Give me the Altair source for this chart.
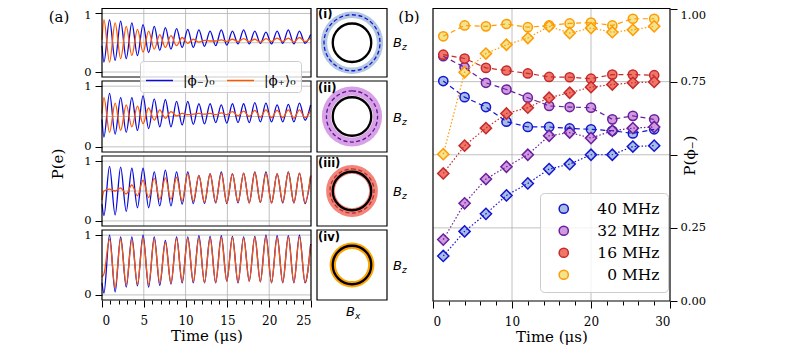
import altair as alt
import pandas as pd

# ---------------- panel (a): time traces (extrema) ----------------
t_a = [0.0, 0.23, 0.9, 1.57, 2.23, 2.9, 3.57, 4.24, 4.91, 5.58, 6.25, 6.91, 7.58, 8.25, 8.92,
       9.59, 10.26, 10.92, 11.59, 12.26, 12.93, 13.6, 14.27, 14.93, 15.6, 16.27, 16.94, 17.61,
       18.28, 18.94, 19.61, 20.28, 20.95, 21.62, 22.29, 22.95, 23.62, 24.29, 24.96]

p1_minus = [0.45, 0.17, 0.89, 0.20, 0.87, 0.23, 0.84, 0.28, 0.81, 0.33, 0.78, 0.37, 0.76, 0.39,
            0.74, 0.42, 0.73, 0.42, 0.72, 0.44, 0.70, 0.45, 0.72, 0.46, 0.70, 0.48, 0.72, 0.48,
            0.70, 0.49, 0.68, 0.48, 0.70, 0.49, 0.72, 0.48, 0.70, 0.49, 0.64]
p1_plus = [0.55, 0.89, 0.17, 0.84, 0.23, 0.78, 0.28, 0.73, 0.34, 0.70, 0.39, 0.64, 0.42, 0.62,
           0.45, 0.59, 0.49, 0.56, 0.51, 0.54, 0.53, 0.53, 0.55, 0.52, 0.56, 0.52, 0.57, 0.52,
           0.56, 0.51, 0.57, 0.52, 0.58, 0.52, 0.58, 0.51, 0.59, 0.52, 0.58]
p2_minus = [0.45, 0.16, 0.88, 0.21, 0.81, 0.24, 0.81, 0.27, 0.84, 0.30, 0.79, 0.33, 0.78, 0.33,
            0.75, 0.36, 0.75, 0.37, 0.71, 0.38, 0.71, 0.40, 0.69, 0.39, 0.71, 0.40, 0.71, 0.40,
            0.73, 0.41, 0.72, 0.41, 0.69, 0.41, 0.70, 0.41, 0.72, 0.44, 0.69]
p2_plus = [0.55, 0.81, 0.24, 0.72, 0.27, 0.69, 0.33, 0.67, 0.38, 0.64, 0.44, 0.61, 0.47, 0.58,
           0.51, 0.55, 0.53, 0.54, 0.55, 0.54, 0.55, 0.53, 0.56, 0.53, 0.58, 0.51, 0.59, 0.50,
           0.60, 0.49, 0.61, 0.48, 0.60, 0.48, 0.61, 0.47, 0.61, 0.48, 0.60]
p3_minus = [0.28, 0.09, 0.91, 0.10, 0.90, 0.16, 0.88, 0.22, 0.88, 0.22, 0.82, 0.25, 0.85, 0.25,
            0.82, 0.28, 0.82, 0.29, 0.76, 0.29, 0.79, 0.30, 0.82, 0.29, 0.79, 0.30, 0.80, 0.30,
            0.82, 0.31, 0.82, 0.30, 0.79, 0.30, 0.82, 0.30, 0.80, 0.29, 0.75]
p3_plus = [0.35, 0.50, 0.53, 0.50, 0.55, 0.45, 0.60, 0.42, 0.68, 0.39, 0.71, 0.36, 0.72, 0.36,
           0.73, 0.33, 0.79, 0.33, 0.76, 0.31, 0.79, 0.31, 0.80, 0.30, 0.79, 0.31, 0.80, 0.30,
           0.81, 0.31, 0.80, 0.30, 0.79, 0.31, 0.81, 0.30, 0.80, 0.30, 0.76]
p4_minus = [0.20, 0.03, 1.00, 0.05, 0.97, 0.13, 0.97, 0.15, 1.00, 0.13, 0.97, 0.16, 0.91, 0.18,
            0.97, 0.20, 0.97, 0.20, 0.99, 0.20, 0.98, 0.20, 0.99, 0.23, 0.98, 0.20, 0.97, 0.23,
            0.98, 0.22, 1.00, 0.20, 0.99, 0.20, 0.99, 0.20, 1.00, 0.20, 0.85]
p4_plus = [0.30, 0.35, 0.93, 0.12, 0.93, 0.17, 0.92, 0.18, 0.95, 0.17, 0.93, 0.20, 0.88, 0.20,
           0.94, 0.22, 0.95, 0.22, 0.95, 0.21, 0.95, 0.21, 0.96, 0.23, 0.96, 0.21, 0.95, 0.23,
           0.96, 0.22, 0.97, 0.21, 0.96, 0.21, 0.97, 0.21, 0.97, 0.21, 0.83]

states = ["|ϕ₋⟩₀", "|ϕ₊⟩₀"]
a_ticks = [0, 5, 10, 15, 20, 25]
a_minor = [1, 2, 3, 4, 6, 7, 8, 9, 11, 12, 13, 14, 16, 17, 18, 19, 21, 22, 23, 24]
a_vgrid = [5, 10, 15, 20]
a_hgrid = [0, 0.5, 1]

# ---------------- circle schematics (i)-(iv) ----------------
circ_names = ["(i)", "(ii)", "(iii)", "(iv)"]
band_inner = [0.71, 0.60, 0.49, 0.46]
band_outer = [0.89, 0.86, 0.74, 0.64]
dash_radius = [0.80, 0.73, 0.63, 0.55]
black_radius = [0.55, 0.55, 0.55, 0.55]

# ---------------- panel (b) ----------------
t_b = [1.3, 4.0, 6.7, 9.3, 12.0, 14.7, 17.3, 20.0, 22.7, 25.3, 28.0]
freq_labels = ["40 MHz", "32 MHz", "16 MHz", "0 MHz"]
circ_40 = [0.752, 0.697, 0.663, 0.613, 0.595, 0.595, 0.590, 0.587, 0.582, 0.573, 0.587]
circ_32 = [0.837, 0.799, 0.746, 0.723, 0.695, 0.667, 0.663, 0.661, 0.621, 0.633, 0.621]
circ_16 = [0.842, 0.829, 0.797, 0.788, 0.778, 0.766, 0.765, 0.760, 0.774, 0.774, 0.772]
circ_0 = [0.905, 0.942, 0.939, 0.947, 0.936, 0.942, 0.949, 0.952, 0.942, 0.965, 0.965]
dia_40 = [0.154, 0.238, 0.298, 0.361, 0.402, 0.451, 0.468, 0.500, 0.500, 0.528, 0.531]
dia_32 = [0.210, 0.334, 0.417, 0.459, 0.500, 0.565, 0.576, 0.557, 0.582, 0.591, 0.595]
dia_16 = [0.436, 0.531, 0.591, 0.641, 0.661, 0.695, 0.712, 0.731, 0.740, 0.746, 0.749]
dia_0 = [0.502, 0.782, 0.846, 0.876, 0.899, 0.939, 0.916, 0.933, 0.919, 0.927, 0.939]
b_ticks = [0, 10, 20, 30]
b_minor = [2, 4, 6, 8, 12, 14, 16, 18, 22, 24, 26, 28]
b_yticks = [0, 0.25, 0.5, 0.75, 1.0]
b_vgrid = [10, 20]
b_hgrid = [0.25, 0.5, 0.75]

# ---------------- styles ----------------
BLUE = "#0a0adc"
ORANGE = "#ff5500"
b_stroke = ["#1414d4", "#6a1f9c", "#c42b2b", "#ff9a00"]
b_fill = ["#a8bee0", "#cf9ae0", "#f0766a", "#f2e38c"]
band_col = ["#b3c7e3", "#d8a0e6", "#f2857a", "#ffa500"]
dash_col = ["#1414d4", "#5a1890", "#c42b2b", "#ffa500"]
GRID = "#b0b0b0"

W, H = 568, 292
XA = [0, 209]
YR = [[69, 0.5], [144, 73], [218, 148], [292, 222]]
XC = [215, 285]
XB = [331, 568]
YB = [293, 0.5]
YDOM = [-0.085, 1.085]
TDOM = [0, 25]
BDOM = [0, 30]


def sc(dom, rng):
    return alt.Scale(domain=dom, range=rng, nice=False, zero=False)


def X(f, dom, rng, axis=None):
    return alt.X(f, type="quantitative", scale=sc(dom, rng), axis=axis)


def Y(f, dom, rng, axis=None):
    return alt.Y(f, type="quantitative", scale=sc(dom, rng), axis=axis)


def frame_layer(xdom, ydom, xr, yr, xax=None, yax=None):
    d = pd.DataFrame({"x": [xdom[0]], "x2": [xdom[1]], "y": [ydom[0]], "y2": [ydom[1]]})
    return alt.Chart(d).mark_rect(fillOpacity=0, stroke="black", strokeWidth=1.2).encode(
        x=X("x", xdom, xr, xax), x2="x2", y=Y("y", ydom, yr, yax), y2="y2")


grid_a = pd.DataFrame({
    "x": a_vgrid + [TDOM[0]] * len(a_hgrid),
    "x2": a_vgrid + [TDOM[1]] * len(a_hgrid),
    "y": [YDOM[0]] * len(a_vgrid) + a_hgrid,
    "y2": [YDOM[1]] * len(a_vgrid) + a_hgrid,
})


def time_panel(k, minus, plus):
    n = len(t_a)
    df = pd.DataFrame({"t": t_a + t_a, "p": minus + plus,
                       "state": [states[0]] * n + [states[1]] * n})
    ykw = dict(orient="left", values=[0, 1], format="d", grid=False, domain=False,
               tickSize=7, labelPadding=4, labelFontSize=11.5, title=None)
    if k == 0:
        ykw["labelOffset"] = {"expr": "datum.value == 1 ? 2 : 0"}
    yax = alt.Axis(**ykw)
    xax = None
    if k == 3:
        xax = alt.Axis(orient="bottom", values=a_ticks, format="d", grid=False, domain=False,
                       tickSize=7, labelPadding=8, labelFontSize=12, title="Time (μs)",
                       titleFontSize=15, titleFontWeight="normal", titlePadding=2)
    leg = None
    if k == 0:
        leg = alt.Legend(orient="none", legendX=38, legendY=53, direction="horizontal",
                         title=None, symbolType="stroke", symbolSize=729, symbolStrokeWidth=1.5,
                         labelFontSize=13.5, labelColor="black",
                         fillColor="rgba(255,255,255,0.8)", strokeColor="#cccccc",
                         cornerRadius=3, padding=5, columnPadding=9, labelOffset=9)
    grid = alt.Chart(grid_a).mark_rule(color=GRID, strokeWidth=0.8).encode(
        x=X("x", TDOM, XA, xax), x2="x2", y=Y("y", YDOM, YR[k], yax), y2="y2")
    lines = alt.Chart(df).mark_line(strokeWidth=1.3, interpolate="monotone").encode(
        x=X("t", TDOM, XA, xax), y=Y("p", YDOM, YR[k], yax),
        color=alt.Color("state:N", scale=alt.Scale(domain=states, range=[BLUE, ORANGE]),
                        legend=leg))
    return alt.layer(grid, lines, frame_layer(TDOM, YDOM, XA, YR[k], xax, yax))


def circle_panel(k):
    d = pd.DataFrame({"cx": [0.0], "cy": [0.0], "ri": [band_inner[k]], "ro": [band_outer[k]],
                      "rd": [dash_radius[k]], "rb": [black_radius[k]]})
    rsc = alt.Scale(type="linear", domain=[0, 1], range=[0, 35], zero=True, nice=False)
    xx = X("cx", [-1, 1], XC)
    yy = Y("cy", [-1, 1], YR[k])
    band = alt.Chart(d).mark_arc(theta=0, theta2=6.2832, color=band_col[k]).encode(
        x=xx, y=yy, radius=alt.Radius("ro:Q", scale=rsc), radius2="ri")
    dash = alt.Chart(d).mark_arc(theta=0, theta2=6.2832, filled=False, stroke=dash_col[k],
                                 strokeWidth=1.3, strokeDash=[4, 2.5]).encode(
        x=xx, y=yy, radius=alt.Radius("rd:Q", scale=rsc))
    ring = alt.Chart(d).mark_arc(theta=0, theta2=6.2832, filled=False, stroke="black",
                                 strokeWidth=2.3).encode(
        x=xx, y=yy, radius=alt.Radius("rb:Q", scale=rsc))
    return alt.layer(band, dash, ring, frame_layer([-1, 1], [-1, 1], XC, YR[k]))


# panel (b)
rows = []
for f, sc_, sd_ in zip(freq_labels, [circ_40, circ_32, circ_16, circ_0],
                       [dia_40, dia_32, dia_16, dia_0]):
    for t, p in zip(t_b, sc_):
        rows.append({"t": t, "p": p, "freq": f, "kind": "circle"})
    for t, p in zip(t_b, sd_):
        rows.append({"t": t, "p": p, "freq": f, "kind": "diamond"})
dfb = pd.DataFrame(rows)

grid_b = pd.DataFrame({
    "x": b_vgrid + [BDOM[0]] * len(b_hgrid),
    "x2": b_vgrid + [BDOM[1]] * len(b_hgrid),
    "y": [0] * len(b_vgrid) + b_hgrid,
    "y2": [1] * len(b_vgrid) + b_hgrid,
})

leg_b = alt.Legend(orient="none", legendX=438, legendY=185, title=None, symbolType="circle",
                   symbolSize=85, symbolStrokeWidth=1.5, labelFontSize=15.5, labelColor="black",
                   labelAlign="right", labelLimit=200,
                   fillColor="rgba(255,255,255,0.8)", strokeColor="#cccccc", cornerRadius=4,
                   padding=8, rowPadding=5, symbolOffset=8, labelOffset=88)
stroke_enc = alt.Stroke("freq:N", scale=alt.Scale(domain=freq_labels, range=b_stroke), legend=leg_b)
fill_enc = alt.Fill("freq:N", scale=alt.Scale(domain=freq_labels, range=b_fill), legend=leg_b)
stroke_nl = alt.Stroke("freq:N", scale=alt.Scale(domain=freq_labels, range=b_stroke), legend=None)
fill_nl = alt.Fill("freq:N", scale=alt.Scale(domain=freq_labels, range=b_fill), legend=None)

xb_ax = alt.Axis(orient="bottom", offset=1, values=b_ticks, format="d", grid=False, domain=False,
                 tickSize=7, labelPadding=8, labelFontSize=12, title="Time (μs)",
                 titleFontSize=15, titleFontWeight="normal", titlePadding=2)
yb_ax = alt.Axis(orient="right", values=b_yticks, grid=False, domain=False, tickSize=7,
                 labelPadding=3, labelFontSize=11.5,
                 labelExpr="datum.value == 0.5 ? '' : format(datum.value, '.2f')",
                 labelOffset={"expr": "datum.value == 1 ? 7 : 0"},
                 title="P(ϕ₋)", titleAngle=270, titleX=19, titleY=147, titleAlign="center",
                 titleBaseline="middle", titleFontSize=15, titleFontWeight="normal")

grid_bl = alt.Chart(grid_b).mark_rule(color=GRID, strokeWidth=0.8).encode(
    x=X("x", BDOM, XB, xb_ax), x2="x2", y=Y("y", [0, 1], YB, yb_ax), y2="y2")
pts_c = alt.Chart(dfb).transform_filter("datum.kind == 'circle'").mark_point(
    filled=True, shape="circle", size=85, strokeWidth=1.5, opacity=1).encode(
    x=X("t", BDOM, XB, xb_ax), y=Y("p", [0, 1], YB, yb_ax), stroke=stroke_enc, fill=fill_enc)
pts_d = alt.Chart(dfb).transform_filter("datum.kind == 'diamond'").mark_point(
    filled=True, shape="diamond", size=125, strokeWidth=1.5, opacity=1).encode(
    x=X("t", BDOM, XB, xb_ax), y=Y("p", [0, 1], YB, yb_ax), stroke=stroke_nl, fill=fill_nl)
lines_b = alt.Chart(dfb).mark_line(strokeWidth=1.2).encode(
    x=X("t", BDOM, XB, xb_ax), y=Y("p", [0, 1], YB, yb_ax),
    color=alt.Color("freq:N", scale=alt.Scale(domain=freq_labels, range=b_stroke), legend=None),
    strokeDash=alt.StrokeDash("kind:N", scale=alt.Scale(domain=["circle", "diamond"],
                                                        range=[[5, 3.5], [1.5, 2]]), legend=None),
    detail="kind:N")
panel_b = alt.layer(grid_bl, pts_c, pts_d, lines_b,
                    frame_layer(BDOM, [0, 1], XB, YB, xb_ax, yb_ax))

minor_a = alt.Chart(pd.DataFrame({"m": a_minor})).mark_rule(opacity=0).encode(
    x=X("m", TDOM, XA, alt.Axis(orient="bottom", values=a_minor, labels=False, tickSize=4,
                                domain=False, grid=False, title=None)))
minor_b = alt.Chart(pd.DataFrame({"m": b_minor})).mark_rule(opacity=0).encode(
    x=X("m", BDOM, XB, alt.Axis(orient="bottom", offset=1, values=b_minor, labels=False,
                                tickSize=4, domain=False, grid=False, title=None)))


def txt(s, x, y, size, font="DejaVu Serif", **kw):
    return alt.Chart(pd.DataFrame({"s": [s]})).mark_text(
        fontSize=size, font=font, color="black", **kw).encode(
        text="s:N", x=alt.value(x), y=alt.value(y))


texts = [
    txt("(a)", -43, 14, 15, align="center", baseline="alphabetic"),
    txt("(b)", 307, 14, 15, align="center", baseline="alphabetic"),
    txt("P(e)", -44, 156, 15, angle=270, align="center", baseline="middle"),
]
label_base = [10, 84, 159, 233]
bz_base = [39, 113.5, 188, 262]
for k in range(4):
    texts.append(txt(circ_names[k], 216, label_base[k], 11.5, font="DejaVu Sans",
                     fontWeight="bold", align="left", baseline="alphabetic"))
    texts.append(txt("B", 291, bz_base[k], 13, font="DejaVu Sans", fontStyle="italic",
                     align="left", baseline="alphabetic"))
    texts.append(txt("z", 300, bz_base[k] + 3, 9, font="DejaVu Sans", fontStyle="italic",
                     align="left", baseline="alphabetic"))
texts.append(txt("B", 244, 308, 13, font="DejaVu Sans", fontStyle="italic",
                 align="left", baseline="alphabetic"))
texts.append(txt("x", 253, 311, 9, font="DejaVu Sans", fontStyle="italic",
                 align="left", baseline="alphabetic"))

groups = [
    time_panel(0, p1_minus, p1_plus),
    time_panel(1, p2_minus, p2_plus),
    time_panel(2, p3_minus, p3_plus),
    time_panel(3, p4_minus, p4_plus),
    circle_panel(0), circle_panel(1), circle_panel(2), circle_panel(3),
    panel_b, minor_a, minor_b,
] + texts

chart = alt.layer(*groups).resolve_scale(
    x="independent", y="independent", color="independent", stroke="independent",
    fill="independent", radius="independent", strokeDash="independent"
).resolve_axis(x="independent", y="independent").properties(
    width=W, height=H,
    autosize=alt.AutoSizeParams(type="none"),
    padding={"left": 94, "top": 0, "right": 110, "bottom": 46},
).configure(font="DejaVu Serif").configure_view(strokeOpacity=0).configure_axis(
    labelColor="black", titleColor="black", tickColor="black", labelFont="DejaVu Serif",
    titleFont="DejaVu Serif")

chart.save("out.html", embed_options={"renderer": "svg", "actions": False})
